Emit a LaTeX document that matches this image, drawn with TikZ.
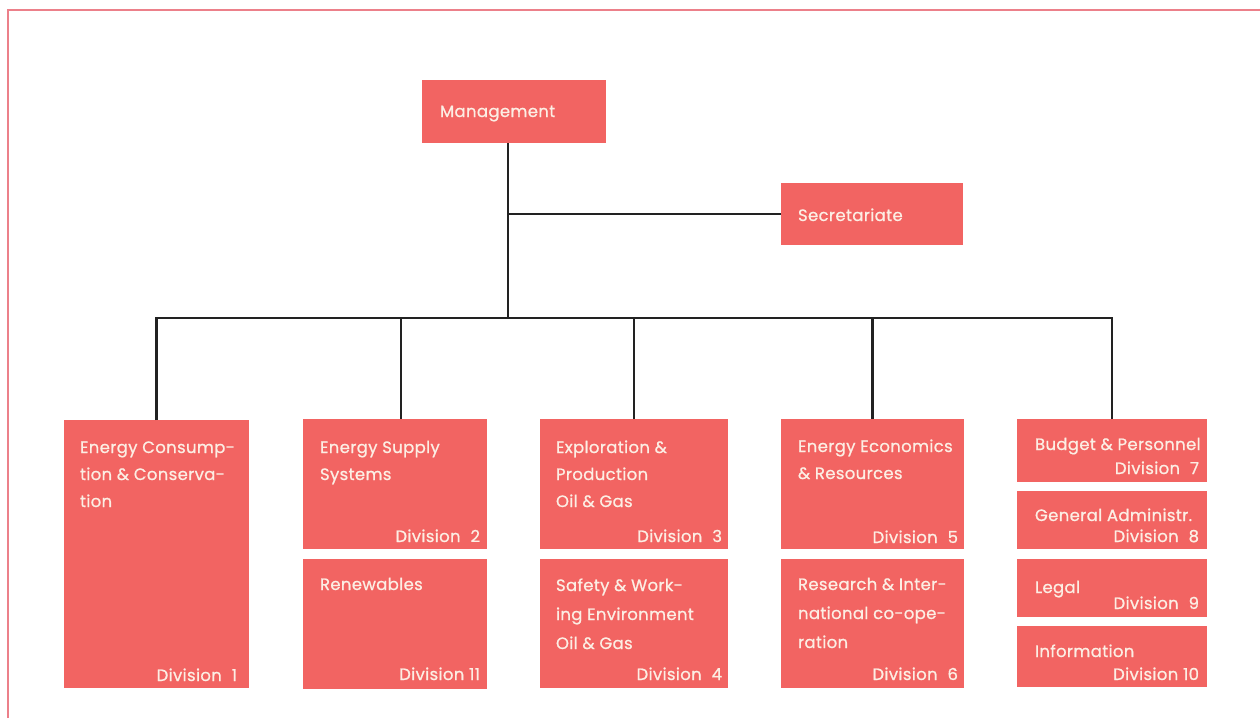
\documentclass[tikz,border=0pt]{standalone}
\usepackage{fontspec}
\setmainfont{Poppins}[LetterSpace=2, FakeBold=0.8]
\usetikzlibrary{calc}
\definecolor{boxred}{RGB}{242,100,98}
\definecolor{boxtext}{RGB}{252,238,228}
\definecolor{frame}{RGB}{236,128,138}
\definecolor{linedark}{RGB}{34,34,34}
\newcommand{\dsp}{\hspace{0.6em}}
\tikzset{
  orgbox/.style={draw=none, fill=boxred, rectangle, inner sep=0pt, outer sep=0pt, anchor=north west},
  ttl/.style={text=boxtext, inner sep=0pt, outer sep=0pt, anchor=base west, align=left, font=\fontsize{16.5}{27}\selectfont},
  divl/.style={text=boxtext, inner sep=0pt, outer sep=0pt, anchor=base east, font=\fontsize{16.5}{27}\selectfont},
  conn/.style={draw=linedark, line width=2.8pt},
  framel/.style={draw=frame, line width=1.2pt}
}
\begin{document}
\begin{tikzpicture}[x=1pt,y=-1pt]
\useasboundingbox (0,0) rectangle (1260,718);
\fill[white] (0,0) rectangle (1260,718);
% frame
\coordinate (fa) at (8,718);
\coordinate (fb) at (8,10);
\coordinate (fc) at (1260,10);
\draw[framel] (fa) -- (fb) -- (fc);
% top boxes
\node[orgbox, minimum width=184pt, minimum height=63pt] (mgmt) at (422,80) {};
\node[ttl] (mgmtt) at (440,117) {Management};
\node[orgbox, minimum width=182pt, minimum height=62pt] (sec) at (781,183) {};
\node[ttl] (sect) at (798,221) {Secretariate};
% divisions (title node positioned at the baseline of its LAST line)
\node[orgbox, minimum width=185pt, minimum height=268pt] (d1) at (64,420) {};
\node[ttl] (d1t) at (80,507) {Energy Consump-\\tion \& Conserva-\\tion};
\node[divl] (d1d) at (237,681) {Division\dsp 1};
\node[orgbox, minimum width=184pt, minimum height=130pt] (d2) at (303,419) {};
\node[ttl] (d2t) at (320,480) {Energy Supply\\Systems};
\node[divl] (d2d) at (480,542) {Division\dsp 2};
\node[orgbox, minimum width=184pt, minimum height=130pt] (d11) at (303,559) {};
\node[ttl] (d11t) at (320,590) {Renewables};
\node[divl] (d11d) at (480,680) {Division 11};
\node[orgbox, minimum width=188pt, minimum height=130pt] (d3) at (540,419) {};
\node[ttl] (d3t) at (556,507) {Exploration \&\\Production\\Oil \& Gas};
\node[divl] (d3d) at (722,542) {Division\dsp 3};
\node[orgbox, minimum width=188pt, minimum height=129pt] (d4) at (540,559) {};
\node[ttl, font=\fontsize{16.5}{29}\selectfont] (d4t) at (556,649) {Safety \& Work-\\ing Environment\\Oil \& Gas};
\node[divl] (d4d) at (722,680) {Division\dsp 4};
\node[orgbox, minimum width=183pt, minimum height=130pt] (d5) at (781,419) {};
\node[ttl] (d5t) at (798,479) {Energy Economics\\\& Resources};
\node[divl] (d5d) at (958,543) {Division\dsp 5};
\node[orgbox, minimum width=183pt, minimum height=129pt] (d6) at (781,559) {};
\node[ttl, font=\fontsize{16.5}{29}\selectfont] (d6t) at (798,648) {Research \& Inter-\\national co-ope-\\ration};
\node[divl] (d6d) at (958,680) {Division\dsp 6};
\node[orgbox, minimum width=190pt, minimum height=63pt] (d7) at (1017,419) {};
\node[ttl] (d7t) at (1035,450) {Budget \& Personnel};
\node[divl] (d7d) at (1199,474) {Division\dsp 7};
\node[orgbox, minimum width=190pt, minimum height=58pt] (d8) at (1017,491) {};
\node[ttl] (d8t) at (1035,521) {General Administr.};
\node[divl] (d8d) at (1199,542) {Division\dsp 8};
\node[orgbox, minimum width=190pt, minimum height=58pt] (d9) at (1017,559) {};
\node[ttl] (d9t) at (1035,593) {Legal};
\node[divl] (d9d) at (1199,609) {Division\dsp 9};
\node[orgbox, minimum width=190pt, minimum height=61pt] (d10) at (1017,626) {};
\node[ttl] (d10t) at (1035,657) {Information};
\node[divl] (d10d) at (1199,680) {Division 10};
% connectors
\coordinate (j) at (508,318);
\draw[conn] (j |- mgmt.south) -- (j);
\draw[conn] (j |- sec.west) -- (sec.west);
\draw[conn] (d1.north) |- (j);
\draw[conn] ([xshift=6pt]d2.north) |- (j);
\draw[conn] (d3.north) |- (j);
\draw[conn] (d5.north) |- (j);
\draw[conn] (d7.north) |- (j);
\end{tikzpicture}
\end{document}
